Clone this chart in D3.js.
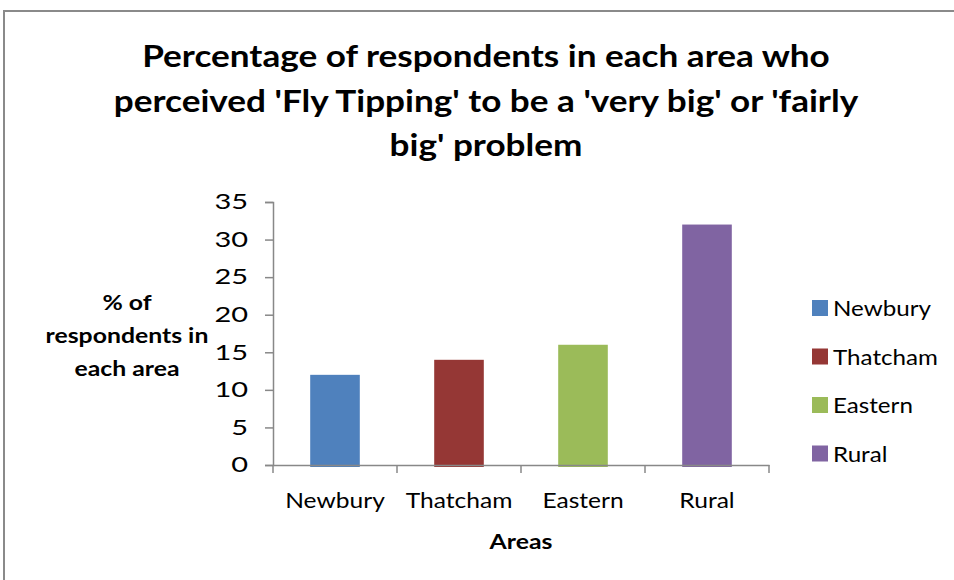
<!DOCTYPE html>
<html><head><meta charset="utf-8">
<script src="https://cdn.jsdelivr.net/npm/d3@7"></script>
<style>body{margin:0;background:#fff}svg{display:block}text{font-family:Lato,"Noto Sans",sans-serif;fill:#000}</style>
</head><body>
<svg id="c" width="954" height="580"></svg>
<script>
const categories = ["Newbury","Thatcham","Eastern","Rural"];
const values = [12,14,16,32];
const colors = ["#4F81BD","#953735","#9BBB59","#8064A2"];
const yTicks = [0,5,10,15,20,25,30,35];
const titleLines = ["Percentage of respondents in each area who","perceived 'Fly Tipping' to be a 'very big' or 'fairly","big' problem"];
const yTitleLines = ["% of","respondents in","each area"];
const xTitle = "Areas";

// the reference text is rendered horizontally wide; stretch glyphs to match
function widen(k){
  return sel => sel.each(function(){
    const w = this.getComputedTextLength();
    d3.select(this).attr("textLength", w*k).attr("lengthAdjust","spacingAndGlyphs");
  });
}

const svg = d3.select("#c");
svg.append("rect").attr("x",4).attr("y",11).attr("width",1000).attr("height",600)
  .attr("fill","#fff").attr("stroke","#8a8a8a").attr("stroke-width",2);

const x = d3.scaleBand().domain(categories).range([273,769]).padding(0);
const y = d3.scaleLinear().domain([0,35]).range([465,202]);

// title
titleLines.forEach((t,i)=>{
  svg.append("text").attr("x",486).attr("y",67+i*44.5).attr("text-anchor","middle")
    .attr("font-size",29.5).attr("font-weight","bold").text(t).call(widen(1.19));
});

// y axis
const yAxis = svg.append("g").attr("transform","translate(273,0)")
  .call(d3.axisLeft(y).tickValues(yTicks).tickSize(8).tickPadding(17));
yAxis.select(".domain").attr("stroke","#888").attr("stroke-width",1.5);
yAxis.selectAll(".tick line").attr("stroke","#888").attr("stroke-width",1.5);
yAxis.selectAll(".tick text").attr("font-size",21).attr("font-family","Lato").attr("fill","#222").call(widen(1.38));

// bars
const bw = x.bandwidth()*0.4;
svg.append("g").selectAll("rect").data(values).join("rect")
  .attr("x",(d,i)=>x(categories[i])+x.bandwidth()/2-bw/2)
  .attr("y",d=>y(d))
  .attr("width",bw)
  .attr("height",d=>y(0)-y(d)+2)
  .attr("fill",(d,i)=>colors[i]);

// x axis
const xAxis = svg.append("g").attr("transform","translate(0,465)")
  .call(d3.axisBottom(x).tickSize(0).tickPadding(28));
xAxis.select(".domain").attr("stroke","#888").attr("stroke-width",1.5);
xAxis.selectAll(".tick text").attr("font-size",21).attr("font-family","Lato").attr("fill","#222").call(widen(1.17));
const bounds = categories.map(c=>x(c)).concat([x.range()[1]]);
xAxis.selectAll(".bt").data(bounds).join("line").attr("class","bt")
  .attr("x1",d=>d).attr("x2",d=>d).attr("y1",0).attr("y2",8)
  .attr("stroke","#888").attr("stroke-width",1.5);

// axis titles
svg.append("text").attr("x",521).attr("y",549).attr("text-anchor","middle")
  .attr("font-size",21).attr("font-weight","bold").text(xTitle).call(widen(1.18));
yTitleLines.forEach((t,i)=>{
  svg.append("text").attr("x",127).attr("y",310+i*33).attr("text-anchor","middle")
    .attr("font-size",21).attr("font-weight","bold").text(t).call(widen(1.18));
});

// legend
const lg = svg.append("g");
categories.forEach((c,i)=>{
  const cy = 308+i*48.5;
  lg.append("rect").attr("x",812).attr("y",cy-8).attr("width",16).attr("height",16).attr("fill",colors[i]);
  lg.append("text").attr("x",833).attr("y",cy+8).attr("font-size",21).attr("fill","#222").text(c).call(widen(1.15));
});
</script>
</body></html>
